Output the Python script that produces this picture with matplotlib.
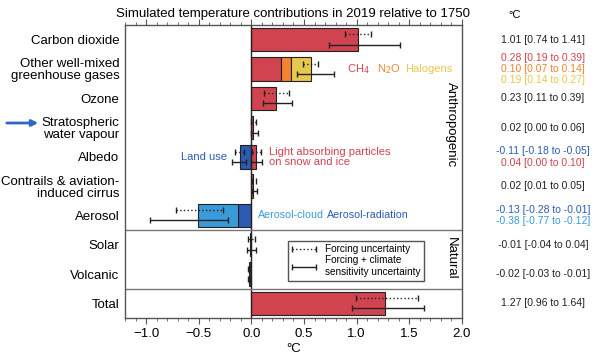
import matplotlib
matplotlib.use('Agg')
import matplotlib.pyplot as plt
import matplotlib.transforms as mtransforms
from matplotlib.ticker import MultipleLocator
from matplotlib.legend_handler import HandlerErrorbar
import numpy as np

plt.rcParams['font.family'] = ['Liberation Sans', 'DejaVu Sans']

# Row labels (top to bottom)
labels = ['Carbon dioxide', 'Other well-mixed\ngreenhouse gases', 'Ozone',
          'Stratospheric\nwater vapour', 'Albedo',
          'Contrails & aviation-\ninduced cirrus', 'Aerosol',
          'Solar', 'Volcanic', 'Total']

# Single-component rows: row index, value
single_rows = [0, 2, 3, 5, 7, 8, 9]
single_vals = [1.01, 0.23, 0.02, 0.02, -0.01, -0.02, 1.27]

# Stacked components
ghg_parts = [0.28, 0.10, 0.19]        # CH4, N2O, Halogens
albedo_parts = [-0.11, 0.04]          # land use, light absorbing particles
aerosol_parts = [-0.13, -0.38]        # aerosol-radiation, aerosol-cloud

# Uncertainty ranges (row, best estimate, forcing range, forcing + climate sensitivity range)
err_rows = [0, 1, 2, 3, 4, 4, 5, 6, 7, 8, 9]
err_best = [1.01, 0.57, 0.23, 0.02, -0.11, 0.04, 0.02, -0.51, -0.01, -0.02, 1.27]
forc_lo = [0.89, 0.49, 0.12, 0.00, -0.155, 0.01, 0.01, -0.72, -0.03, -0.03, 0.99]
forc_hi = [1.14, 0.63, 0.36, 0.04, -0.07, 0.09, 0.04, -0.27, 0.03, -0.01, 1.58]
full_lo = [0.74, 0.43, 0.11, 0.00, -0.18, 0.00, 0.01, -0.96, -0.04, -0.03, 0.96]
full_hi = [1.41, 0.78, 0.39, 0.06, -0.05, 0.10, 0.05, -0.22, 0.04, -0.01, 1.64]

# Right-hand column of numbers
right_text = ['1.01 [0.74 to 1.41]',
              '0.28 [0.19 to 0.39]', '0.10 [0.07 to 0.14]', '0.19 [0.14 to 0.27]',
              '0.23 [0.11 to 0.39]', '0.02 [0.00 to 0.06]',
              '-0.11 [-0.18 to -0.05]', '0.04 [0.00 to 0.10]',
              '0.02 [0.01 to 0.05]',
              '-0.13 [-0.28 to -0.01]', '-0.38 [-0.77 to -0.12]',
              '-0.01 [-0.04 to 0.04]', '-0.02 [-0.03 to -0.01]',
              '1.27 [0.96 to 1.64]']
right_rows = [0, 0.62, 1.0, 1.38, 2, 3, 3.8, 4.2, 5, 5.82, 6.18, 7, 8, 9]

RED = '#d0434f'
ORANGE = '#f2832f'
YELLOW = '#e6c94c'
DBLUE = '#2c5bb4'
LBLUE = '#3a9ad9'
right_colors = ['#222222', RED, ORANGE, YELLOW, '#222222', '#222222',
                DBLUE, RED, '#222222', DBLUE, LBLUE, '#222222', '#222222', '#222222']
single_colors = [RED, RED, RED, RED, '#333333', '#333333', RED]

fig = plt.figure(figsize=(6.05, 3.55), dpi=100)
ax = fig.add_axes([0.2066, 0.1042, 0.557, 0.8254])

h = 0.8
ekw = dict(edgecolor='#222222', linewidth=0.8, height=h)

ax.barh(single_rows, single_vals, color=single_colors, **ekw)

# Other GHGs stacked
left = 0
for v, c in zip(ghg_parts, [RED, ORANGE, YELLOW]):
    ax.barh(1, v, left=left, color=c, **ekw)
    left += v

# Albedo: land use (negative) and LAP (positive)
ax.barh(4, albedo_parts[0], color=DBLUE, **ekw)
ax.barh(4, albedo_parts[1], color=RED, **ekw)

# Aerosol stacked negative
left = 0
for v, c in zip(aerosol_parts, [DBLUE, LBLUE]):
    ax.barh(6, v, left=left, color=c, **ekw)
    left += v

# error bars
rows = np.array(err_rows, dtype=float)
best = np.array(err_best)
fxerr = [best - np.array(forc_lo), np.array(forc_hi) - best]
sxerr = [best - np.array(full_lo), np.array(full_hi) - best]
e1 = ax.errorbar(best, rows - 0.18, xerr=fxerr, fmt='none', ecolor='#222222',
                 elinewidth=1.0, capsize=2.5, capthick=1.0,
                 label='Forcing uncertainty')
e1[2][0].set_linestyle(':')
e2 = ax.errorbar(best, rows + 0.17, xerr=sxerr, fmt='none', ecolor='#222222',
                 elinewidth=1.0, capsize=2.5, capthick=1.0,
                 label='Forcing + climate\nsensitivity uncertainty')

ax.axvline(0, color='#222222', lw=1.0, zorder=1)
ax.axhline(6.5, color='#777777', lw=1.0)
ax.axhline(8.5, color='#777777', lw=1.0)

ax.set_xlim(-1.2, 2.0)
ax.set_ylim(9.5, -0.5)
ax.set_yticks(range(len(labels)))
ax.set_yticklabels(labels, fontsize=9.5, linespacing=1.0)
ax.tick_params(axis='y', length=0, pad=4)
ax.xaxis.set_major_locator(MultipleLocator(0.5))
ax.xaxis.set_minor_locator(MultipleLocator(0.1))
ax.tick_params(axis='x', which='both', top=True, direction='out',
               color='#555555', labelsize=9.5)
ax.tick_params(axis='x', which='major', length=4)
ax.tick_params(axis='x', which='minor', length=2.5)
ax.xaxis.set_major_formatter(matplotlib.ticker.FuncFormatter(
    lambda v, p: f'{v:.1f}'.replace('-', '\u2212')))
for s in ax.spines.values():
    s.set_color('#555555')
    s.set_linewidth(1.0)
ax.set_xlabel('°C', fontsize=9.5, labelpad=2)
ax.set_title('Simulated temperature contributions in 2019 relative to 1750',
             fontsize=9.5, pad=6)

# annotations on bars
ax.text(0.91, 1, 'CH$_4$', color=RED, fontsize=8, va='center')
ax.text(1.19, 1, 'N$_2$O', color=ORANGE, fontsize=8, va='center')
ax.text(1.46, 1, 'Halogens', color=YELLOW, fontsize=8, va='center')
ax.text(0.17, 4, 'Light absorbing particles\non snow and ice', color=RED,
        fontsize=8, va='center', linespacing=1.0)
ax.text(-0.23, 4, 'Land use', color=DBLUE, fontsize=8, va='center', ha='right')
ax.text(0.06, 6, 'Aerosol-cloud', color=LBLUE, fontsize=7.7, va='center')
ax.text(0.72, 6, 'Aerosol-radiation', color=DBLUE, fontsize=7.7, va='center')

trans = mtransforms.blended_transform_factory(ax.transAxes, ax.transData)
ax.text(0.966, 2.9, 'Anthropogenic', rotation=-90, transform=trans,
        ha='center', va='center', fontsize=9.5)
ax.text(0.966, 7.45, 'Natural', rotation=-90, transform=trans,
        ha='center', va='center', fontsize=9.5)

for t, r, c in zip(right_text, right_rows, right_colors):
    ax.text(1.24, r, t, color=c, transform=trans, ha='center', va='center',
            fontsize=7.5, clip_on=False)
fig.text(515 / 605, 1 - 15 / 355, '°C', ha='center', va='center', fontsize=8)

leg = ax.legend(handles=[e1, e2], loc='upper left', bbox_to_anchor=(0.484, 0.263),
                borderaxespad=0, fontsize=7.2, fancybox=False, edgecolor='#555555',
                handlelength=2.5, labelspacing=0.1, borderpad=0.35,
                handletextpad=0.8, framealpha=1,
                handler_map={type(e1): HandlerErrorbar(xerr_size=1.2)})
leg.get_frame().set_linewidth(1.0)

# arrow pointing at stratospheric water vapour
fig.add_artist(matplotlib.patches.FancyArrowPatch(
    (4 / 605, 1 - 123 / 355), (41 / 605, 1 - 123 / 355),
    transform=fig.transFigure, arrowstyle='-|>', mutation_scale=9,
    color='#3464c4', lw=2))

fig.savefig('out.png', dpi=100)
